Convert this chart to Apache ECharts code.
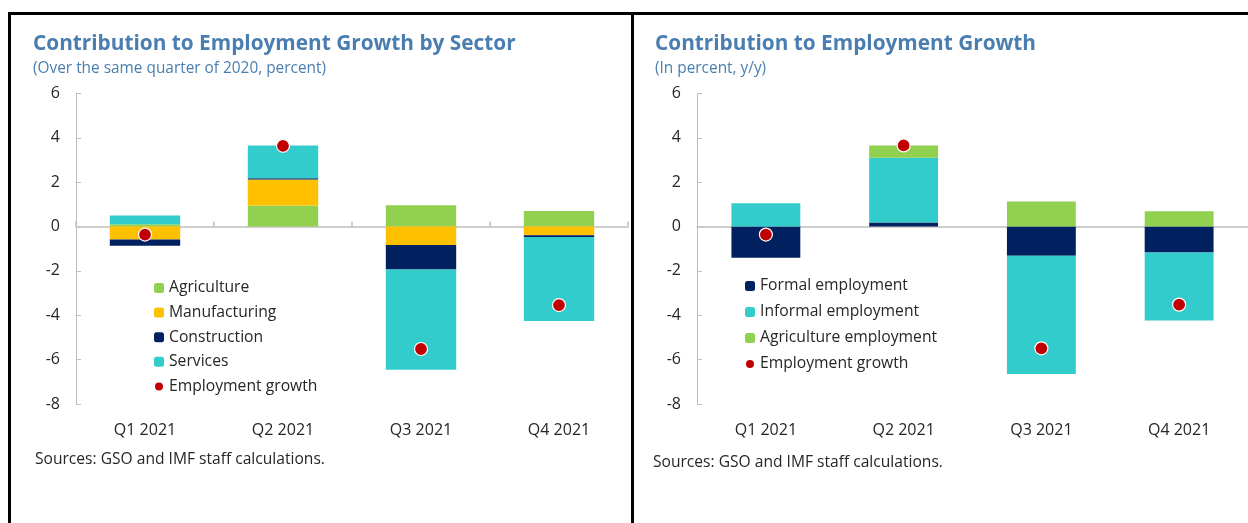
<!DOCTYPE html>
<html><head><meta charset="utf-8">
<script src="https://cdn.jsdelivr.net/npm/echarts@6/dist/echarts.min.js"></script>
<style>html,body{margin:0;padding:0;background:#fff}#c{width:1248px;height:523px}</style>
</head><body><div id="c"></div>
<script>
// ---- data ----
const categories = ['Q1 2021', 'Q2 2021', 'Q3 2021', 'Q4 2021'];
const yMin = -8, yMax = 6, yStep = 2;

const sectorAgriculture   = [0.10, 0.95, 0.96, 0.70];
const sectorManufacturing = [-0.58, 1.17, -0.83, -0.39];
const sectorConstruction  = [-0.28, 0.06, -1.10, -0.08];
const sectorServices      = [0.40, 1.47, -4.53, -3.79];
const sectorGrowth        = [-0.36, 3.64, -5.52, -3.54];

const formalEmployment      = [-1.41, 0.18, -1.31, -1.17];
const informalEmployment    = [1.05, 2.92, -5.34, -3.06];
const agricultureEmployment = [0.00, 0.56, 1.13, 0.69];
const employmentGrowth      = [-0.36, 3.66, -5.49, -3.52];

const leftTitle = 'Contribution to Employment Growth by Sector';
const leftSub = '(Over the same quarter of 2020, percent)';
const rightTitle = 'Contribution to Employment Growth';
const rightSub = '(In percent, y/y)';
const sourceNote = 'Sources: GSO and IMF staff calculations.';

// ---- style ----
const FONT = 'Open Sans';
const C = { green: '#92D050', yellow: '#FFC000', navy: '#002060', teal: '#33CCCC', red: '#C00000', title: '#4A7EB0', axis: '#BFBFBF', text: '#262626' };

const chart = echarts.init(document.getElementById('c'), null, { renderer: 'canvas' });

function yAxis(gi) {
  return {
    type: 'value', gridIndex: gi, min: yMin, max: yMax, interval: yStep,
    axisLine: { show: true, lineStyle: { color: C.axis, width: 1 } },
    axisTick: { show: true, inside: true, length: 5, lineStyle: { color: C.axis } },
    splitLine: { show: false },
    axisLabel: { color: C.text, fontSize: 16, fontFamily: FONT, margin: 16 }
  };
}
function zeroAxis(gi, ticks) {
  return {
    type: 'category', gridIndex: gi, data: categories,
    axisLine: { show: true, onZero: true, lineStyle: { color: C.axis, width: 1.5 } },
    axisTick: { show: ticks, inside: true, length: 5, lineStyle: { color: C.axis, width: 1.5 } },
    axisLabel: { show: false }
  };
}
function labelAxis(gi) {
  return {
    type: 'category', gridIndex: gi, data: categories, position: 'bottom',
    axisLine: { show: false, onZero: false }, axisTick: { show: false },
    axisLabel: { color: C.text, fontSize: 16, fontFamily: FONT, margin: 18 }
  };
}
function bar(name, data, color, xi, yi, stack, w) {
  return { name, type: 'bar', stack, data, xAxisIndex: xi, yAxisIndex: yi, barWidth: w,
    itemStyle: { color }, emphasis: { disabled: true } };
}
function dots(name, data, xi, yi) {
  return { name, type: 'scatter', data, xAxisIndex: xi, yAxisIndex: yi, symbolSize: 13, z: 5,
    itemStyle: { color: C.red, borderColor: '#fff', borderWidth: 1.2, opacity: 1 } };
}
const legendText = { color: C.text, fontSize: 15.7, fontFamily: FONT, lineHeight: 16 };
const titleStyle = { color: C.title, fontSize: 20.8, fontWeight: 'bold', fontFamily: FONT };
const subStyle = { color: C.title, fontSize: 15.4, fontFamily: FONT };
const srcStyle = { color: C.text, fontSize: 15.6, fontWeight: 'normal', fontFamily: FONT };

chart.setOption({
  animation: false,
  textStyle: { fontFamily: FONT },
  title: [
    { text: leftTitle, subtext: leftSub, left: 28, top: 29, itemGap: 6.5, textStyle: titleStyle, subtextStyle: subStyle },
    { text: rightTitle, subtext: rightSub, left: 650, top: 29, itemGap: 6.5, textStyle: titleStyle, subtextStyle: subStyle },
    { text: sourceNote, left: 30, top: 447, textStyle: srcStyle },
    { text: sourceNote, left: 648, top: 449.5, textStyle: srcStyle }
  ],
  legend: [
    { orient: 'vertical', left: 148, top: 275, itemWidth: 10, itemHeight: 10, itemGap: 8.6,
      textStyle: legendText, selectedMode: false,
      data: ['Agriculture', 'Manufacturing', 'Construction', 'Services', { name: 'Employment growth', icon: 'circle' }] },
    { orient: 'vertical', left: 739, top: 273, itemWidth: 10, itemHeight: 10, itemGap: 10,
      textStyle: legendText, selectedMode: false,
      data: ['Formal employment', 'Informal employment', 'Agriculture employment', { name: 'Employment growth', icon: 'circle' }] }
  ],
  grid: [
    { left: 76, top: 93.5, width: 552, height: 310.5 },
    { left: 697, top: 93.5, width: 568, height: 310.5 }
  ],
  xAxis: [zeroAxis(0, true), labelAxis(0), zeroAxis(1, false), labelAxis(1)],
  yAxis: [yAxis(0), yAxis(1)],
  series: [
    bar('Agriculture', sectorAgriculture, C.green, 0, 0, 'a', '51%'),
    bar('Manufacturing', sectorManufacturing, C.yellow, 0, 0, 'a', '51%'),
    bar('Construction', sectorConstruction, C.navy, 0, 0, 'a', '51%'),
    bar('Services', sectorServices, C.teal, 0, 0, 'a', '51%'),
    dots('Employment growth', sectorGrowth, 0, 0),
    bar('Formal employment', formalEmployment, C.navy, 2, 1, 'b', '50%'),
    bar('Informal employment', informalEmployment, C.teal, 2, 1, 'b', '50%'),
    bar('Agriculture employment', agricultureEmployment, C.green, 2, 1, 'b', '50%'),
    dots('Employment growth', employmentGrowth, 2, 1)
  ],
  graphic: [
    { type: 'line', shape: { x1: 8, y1: 13.5, x2: 1248, y2: 13.5 }, style: { stroke: '#000', lineWidth: 3 }, z: 100 },
    { type: 'line', shape: { x1: 9.5, y1: 12, x2: 9.5, y2: 523 }, style: { stroke: '#000', lineWidth: 3 }, z: 100 },
    { type: 'line', shape: { x1: 632.5, y1: 12, x2: 632.5, y2: 523 }, style: { stroke: '#000', lineWidth: 3 }, z: 100 }
  ]
});
</script></body></html>
